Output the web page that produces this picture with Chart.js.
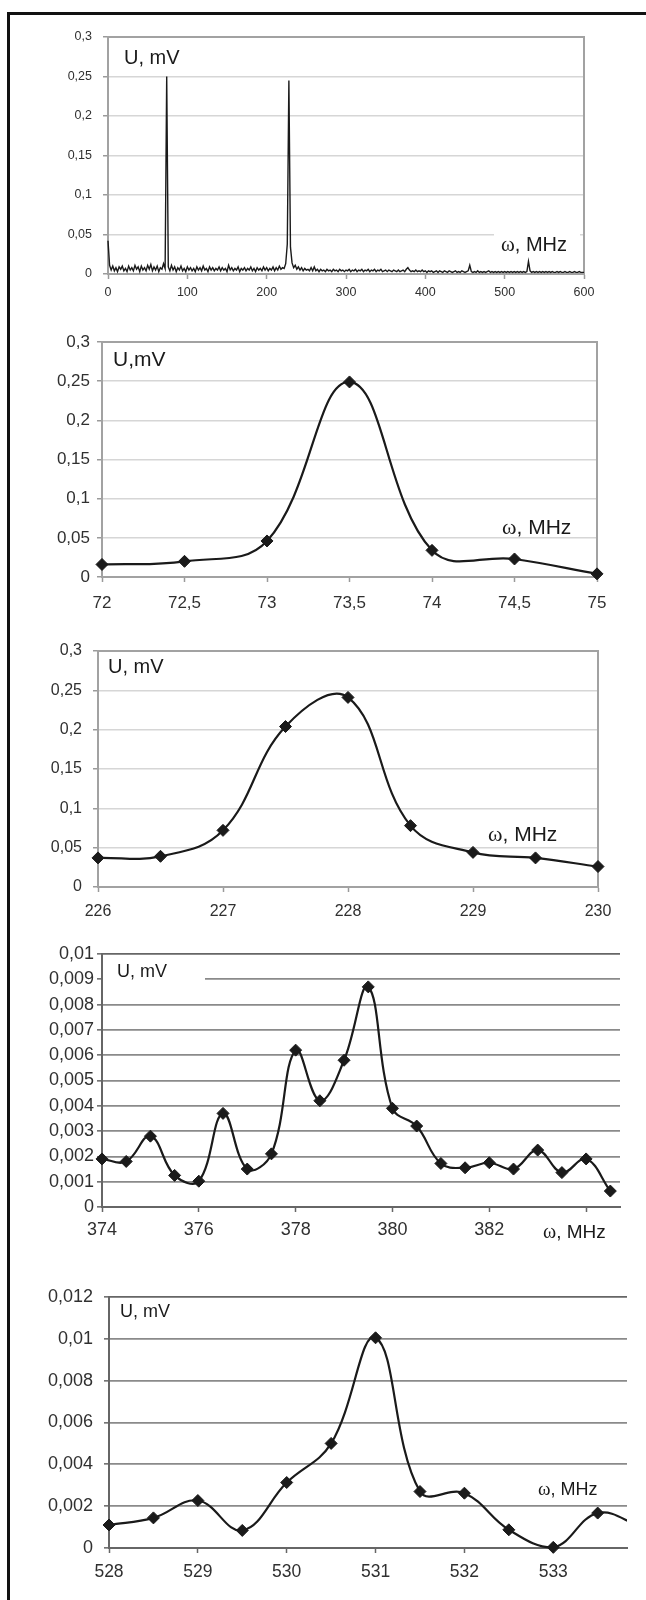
<!DOCTYPE html>
<html>
<head>
<meta charset="utf-8">
<script src="https://cdn.jsdelivr.net/npm/chart.js@4.4.1/dist/chart.umd.min.js"></script>
<style>
  html, body { margin: 0; padding: 0; background: #fff; }
  #page { position: relative; width: 646px; height: 1600px; overflow: hidden; background: #fff; }
  #frame { position: absolute; left: 7px; top: 12px; width: 700px; height: 1700px;
           border-left: 3px solid #111; border-top: 3px solid #111; }
  canvas { position: absolute; left: 0; }
</style>
</head>
<body>
<div id="page">
  <div id="frame"></div>
  <canvas id="overview" width="646" height="300" style="top:18px"></canvas>
  <canvas id="peak73"   width="646" height="300" style="top:322px"></canvas>
  <canvas id="peak228"  width="646" height="295" style="top:630px"></canvas>
  <canvas id="band378"  width="646" height="320" style="top:935px"></canvas>
  <canvas id="band531"  width="646" height="328" style="top:1272px"></canvas>
</div>
<script>
// ---------- data ----------
// Full spectrum 0–600 MHz, one reading every 2 MHz (U in mV)
const overviewStartMHz = 0;
const overviewStepMHz = 2;
const overviewU = [
  0.042, 0.011, 0.005, 0.010, 0.004, 0.008, 0.003, 0.009, 0.006, 0.010,
  0.004, 0.007, 0.003, 0.010, 0.005, 0.008, 0.004, 0.011, 0.006, 0.009,
  0.003, 0.010, 0.005, 0.008, 0.004, 0.011, 0.006, 0.012, 0.004, 0.009,
  0.005, 0.010, 0.003, 0.008, 0.006, 0.013, 0.007, 0.250, 0.009, 0.004,
  0.011, 0.005, 0.009, 0.003, 0.008, 0.005, 0.010, 0.004, 0.007, 0.003,
  0.009, 0.005, 0.008, 0.004, 0.007, 0.003, 0.009, 0.005, 0.008, 0.004,
  0.010, 0.005, 0.007, 0.003, 0.009, 0.005, 0.008, 0.004, 0.007, 0.005,
  0.009, 0.004, 0.008, 0.005, 0.007, 0.003, 0.011, 0.005, 0.008, 0.004,
  0.007, 0.005, 0.009, 0.003, 0.007, 0.005, 0.008, 0.004, 0.007, 0.005,
  0.009, 0.004, 0.007, 0.003, 0.008, 0.005, 0.007, 0.004, 0.009, 0.005,
  0.008, 0.004, 0.007, 0.005, 0.009, 0.004, 0.008, 0.005, 0.010, 0.006,
  0.008, 0.007, 0.013, 0.038, 0.245, 0.034, 0.014, 0.008, 0.011, 0.006,
  0.009, 0.005, 0.008, 0.004, 0.007, 0.005, 0.006, 0.004, 0.008, 0.004,
  0.009, 0.004, 0.006, 0.003, 0.006, 0.004, 0.005, 0.003, 0.006, 0.004,
  0.005, 0.003, 0.006, 0.004, 0.005, 0.003, 0.006, 0.004, 0.005, 0.003,
  0.005, 0.004, 0.006, 0.003, 0.005, 0.004, 0.006, 0.003, 0.005, 0.004,
  0.006, 0.003, 0.005, 0.004, 0.006, 0.003, 0.005, 0.004, 0.006, 0.003,
  0.005, 0.004, 0.006, 0.003, 0.004, 0.005, 0.003, 0.005, 0.004, 0.003,
  0.005, 0.004, 0.003, 0.005, 0.003, 0.004, 0.005, 0.003, 0.006, 0.008,
  0.005, 0.003, 0.004, 0.003, 0.005, 0.003, 0.004, 0.003, 0.005, 0.003,
  0.004, 0.002, 0.004, 0.003, 0.004, 0.002, 0.003, 0.004, 0.002, 0.004,
  0.003, 0.002, 0.004, 0.003, 0.002, 0.004, 0.003, 0.002, 0.003, 0.004,
  0.002, 0.003, 0.002, 0.004, 0.003, 0.002, 0.003, 0.004, 0.011, 0.003,
  0.002, 0.003, 0.002, 0.004, 0.002, 0.003, 0.002, 0.003, 0.002, 0.003,
  0.004, 0.002, 0.003, 0.002, 0.003, 0.002, 0.003, 0.002, 0.003, 0.002,
  0.003, 0.002, 0.003, 0.002, 0.003, 0.002, 0.003, 0.002, 0.003, 0.002,
  0.003, 0.002, 0.003, 0.002, 0.003, 0.016, 0.004, 0.002, 0.003, 0.002,
  0.003, 0.002, 0.003, 0.002, 0.003, 0.002, 0.003, 0.002, 0.003, 0.002,
  0.003, 0.002, 0.002, 0.003, 0.002, 0.003, 0.002, 0.002, 0.003, 0.002,
  0.002, 0.003, 0.002, 0.002, 0.003, 0.002, 0.002, 0.003, 0.002, 0.002,
  0.002
];
const overviewXTicks = [0, 100, 200, 300, 400, 500, 600];
const overviewYTicks = [0, 0.05, 0.1, 0.15, 0.2, 0.25, 0.3];

// Line near 73.5 MHz
const peak73Freq = [72, 72.5, 73, 73.5, 74, 74.5, 75];
const peak73U    = [0.016, 0.020, 0.046, 0.249, 0.034, 0.023, 0.004];
const peak73XTicks = [72, 72.5, 73, 73.5, 74, 74.5, 75];
const peak73YTicks = [0, 0.05, 0.1, 0.15, 0.2, 0.25, 0.3];

// Line near 228 MHz
const peak228Freq = [226, 226.5, 227, 227.5, 228, 228.5, 229, 229.5, 230];
const peak228U    = [0.037, 0.039, 0.072, 0.204, 0.241, 0.078, 0.044, 0.037, 0.026];
const peak228XTicks = [226, 227, 228, 229, 230];
const peak228YTicks = [0, 0.05, 0.1, 0.15, 0.2, 0.25, 0.3];

// Band 374–384.5 MHz
const band378Freq = [374, 374.5, 375, 375.5, 376, 376.5, 377, 377.5, 378, 378.5, 379,
                     379.5, 380, 380.5, 381, 381.5, 382, 382.5, 383, 383.5, 384, 384.5];
const band378U    = [0.0019, 0.0018, 0.0028, 0.00125, 0.00102, 0.0037, 0.0015, 0.0021, 0.0062, 0.0042, 0.0058,
                     0.0087, 0.0039, 0.0032, 0.00172, 0.00155, 0.00175, 0.0015, 0.00225, 0.00136, 0.0019, 0.00063];
const band378XTicks = [374, 376, 378, 380, 382, 384];
const band378XLabels = ['374', '376', '378', '380', '382', ''];
const band378YTicks = [0, 0.001, 0.002, 0.003, 0.004, 0.005, 0.006, 0.007, 0.008, 0.009, 0.01];

// Band 528–534 MHz
const band531Freq = [528, 528.5, 529, 529.5, 530, 530.5, 531, 531.5, 532, 532.5, 533, 533.5, 534];
const band531U    = [0.0011, 0.00144, 0.00227, 0.00084, 0.00313, 0.0050, 0.01005, 0.0027, 0.00262, 0.00087, 0.00003, 0.00167, 0.0010];
const band531XTicks = [528, 529, 530, 531, 532, 533];
const band531YTicks = [0, 0.002, 0.004, 0.006, 0.008, 0.01, 0.012];

// ---------- helpers ----------
const SANS = "'Liberation Sans', Arial, sans-serif";
const SERIF = "'Liberation Serif', 'Times New Roman', serif";
const INK = '#1a1a1a';
const TICK_INK = '#303030';

const commaLabel = v => String(v).replace('.', ',');
const fixedTicks = list => scale => { scale.ticks = list.map(v => ({ value: v })); };
const pairs = (xs, ys) => xs.map((x, i) => ({ x, y: ys[i] }));

// axis captions drawn inside the plot, with optional white patch behind them
const captionPlugin = {
  id: 'captions',
  afterDraw(chart, args, opts) {
    const ctx = chart.ctx, a = chart.chartArea;
    ctx.save();
    (opts.items || []).forEach(item => {
      if (item.patch) {
        ctx.fillStyle = '#fff';
        ctx.fillRect(a.left + item.patch[0], a.top + item.patch[1], item.patch[2], item.patch[3]);
      }
      let x = a.left + item.dx;
      const y = a.top + item.dy;
      ctx.textBaseline = 'middle';
      ctx.textAlign = 'left';
      ctx.fillStyle = INK;
      item.parts.forEach(p => {
        ctx.font = `${p.size}px ${p.family || SANS}`;
        ctx.fillText(p.text, x, y);
        x += ctx.measureText(p.text).width;
      });
    });
    ctx.restore();
  }
};

// grey box around the plot area
const framePlugin = {
  id: 'plotFrame',
  beforeDatasetsDraw(chart, args, opts) {
    if (!opts.color) return;
    const ctx = chart.ctx, a = chart.chartArea;
    ctx.save();
    ctx.strokeStyle = opts.color;
    ctx.lineWidth = opts.width;
    ctx.strokeRect(a.left, a.top, a.right - a.left, a.bottom - a.top);
    ctx.restore();
  }
};

const LIGHT = { grid: '#d6d6d6', gridTop: '#d6d6d6', gridWidth: 1.5, edge: '#a2a2a2', tick: '#9a9a9a', frame: '#a2a2a2' };
const DARK  = { grid: '#8a8a8a', gridTop: '#666', gridWidth: 1.7, edge: '#666', tick: '#666', frame: null };

function panel(cfg) {
  const canvas = document.getElementById(cfg.id);
  const H = canvas.height;
  const st = cfg.style;
  const p = cfg.plot;
  const yMax = cfg.yTicks[cfg.yTicks.length - 1];
  new Chart(canvas, {
    type: 'line',
    data: {
      datasets: [{
        data: cfg.data,
        borderColor: INK,
        borderWidth: cfg.lineWidth,
        tension: cfg.tension,
        pointStyle: 'rectRot',
        pointRadius: cfg.pointRadius,
        pointBorderWidth: 1,
        pointBackgroundColor: INK,
        pointBorderColor: INK,
        clip: cfg.clip
      }]
    },
    options: {
      responsive: false,
      animation: false,
      events: [],
      layout: { padding: { left: 0, top: p.top, right: 646 - p.right, bottom: 0 } },
      plugins: {
        legend: { display: false },
        tooltip: { enabled: false },
        captions: { items: cfg.captions },
        plotFrame: { color: st.frame, width: 2 }
      },
      scales: {
        x: {
          type: 'linear',
          min: cfg.xMin, max: cfg.xMax,
          afterBuildTicks: fixedTicks(cfg.xTicks),
          afterFit: s => { s.height = H - p.bottom; },
          ticks: {
            autoSkip: false, maxRotation: 0,
            padding: cfg.xPad,
            color: TICK_INK,
            font: { family: SANS, size: cfg.xFont },
            callback: (v, i) => cfg.xLabels ? cfg.xLabels[i] : commaLabel(v)
          },
          grid: { drawOnChartArea: false, drawTicks: true, tickLength: 5, tickColor: st.tick, tickWidth: 1.5 },
          border: { display: true, color: st.edge, width: 2 }
        },
        y: {
          type: 'linear',
          min: 0, max: yMax,
          afterBuildTicks: fixedTicks(cfg.yTicks),
          afterFit: s => { s.width = p.left; },
          ticks: {
            autoSkip: false,
            padding: cfg.yPad,
            color: TICK_INK,
            font: { family: SANS, size: cfg.yFont },
            callback: v => commaLabel(v)
          },
          grid: {
            drawTicks: true, tickLength: 5, tickColor: st.tick, tickWidth: 1.5,
            color: c => (c.tick && c.tick.value === yMax) ? st.gridTop : st.grid,
            lineWidth: st.gridWidth
          },
          border: { display: true, color: st.edge, width: 2 }
        }
      }
    },
    plugins: [framePlugin, captionPlugin]
  });
}

// ---------- panels ----------
panel({
  id: 'overview', style: LIGHT,
  plot: { left: 108, right: 584, top: 19, bottom: 256 },
  data: overviewU.map((u, i) => ({ x: overviewStartMHz + i * overviewStepMHz, y: u })),
  xMin: 0, xMax: 600, xTicks: overviewXTicks, yTicks: overviewYTicks,
  lineWidth: 1.4, tension: 0, pointRadius: 0, clip: 2,
  xFont: 12.5, yFont: 12.5, xPad: 6, yPad: 11,
  captions: [
    { dx: 16, dy: 21, parts: [{ text: 'U, mV', size: 20 }] },
    { dx: 393, dy: 208, patch: [386, 193, 86, 27],
      parts: [{ text: 'ω', size: 21, family: SERIF }, { text: ', MHz', size: 20 }] }
  ]
});

panel({
  id: 'peak73', style: LIGHT,
  plot: { left: 102, right: 597, top: 20, bottom: 255 },
  data: pairs(peak73Freq, peak73U),
  xMin: 72, xMax: 75, xTicks: peak73XTicks, yTicks: peak73YTicks,
  lineWidth: 2.2, tension: 0.4, pointRadius: 6, clip: 8,
  xFont: 17, yFont: 17, xPad: 11, yPad: 7,
  captions: [
    { dx: 11, dy: 18, parts: [{ text: 'U,mV', size: 21 }] },
    { dx: 400, dy: 186, parts: [{ text: 'ω', size: 22, family: SERIF }, { text: ', MHz', size: 21 }] }
  ]
});

panel({
  id: 'peak228', style: LIGHT,
  plot: { left: 98, right: 598, top: 21, bottom: 257 },
  data: pairs(peak228Freq, peak228U),
  xMin: 226, xMax: 230, xTicks: peak228XTicks, yTicks: peak228YTicks,
  lineWidth: 2.2, tension: 0.4, pointRadius: 6, clip: 8,
  xFont: 16, yFont: 16, xPad: 10, yPad: 11,
  captions: [
    { dx: 10, dy: 16, parts: [{ text: 'U, mV', size: 20 }] },
    { dx: 390, dy: 184, parts: [{ text: 'ω', size: 22, family: SERIF }, { text: ', MHz', size: 21 }] }
  ]
});

panel({
  id: 'band378', style: DARK,
  plot: { left: 102, right: 620, top: 19, bottom: 272 },
  data: pairs(band378Freq, band378U),
  xMin: 374, xMax: 384.7, xTicks: band378XTicks, xLabels: band378XLabels, yTicks: band378YTicks,
  lineWidth: 2.2, tension: 0.4, pointRadius: 6, clip: { left: 8, top: 8, right: 0, bottom: 8 },
  xFont: 18, yFont: 18, xPad: 7, yPad: 3,
  captions: [
    { dx: 15, dy: 18, patch: [1, 9, 102, 22], parts: [{ text: 'U, mV', size: 18 }] },
    { dx: 441, dy: 279, parts: [{ text: 'ω', size: 20, family: SERIF }, { text: ', MHz', size: 19 }] }
  ]
});

panel({
  id: 'band531', style: DARK,
  plot: { left: 109, right: 627, top: 25, bottom: 276 },
  data: pairs(band531Freq, band531U),
  xMin: 528, xMax: 533.83, xTicks: band531XTicks, yTicks: band531YTicks,
  lineWidth: 2.2, tension: 0.4, pointRadius: 6, clip: { left: 8, top: 8, right: 0, bottom: 8 },
  xFont: 17.5, yFont: 18, xPad: 8.5, yPad: 11,
  captions: [
    { dx: 11, dy: 15, parts: [{ text: 'U, mV', size: 18 }] },
    { dx: 429, dy: 193, parts: [{ text: 'ω', size: 19, family: SERIF }, { text: ', MHz', size: 18 }] }
  ]
});
</script>
</body>
</html>
